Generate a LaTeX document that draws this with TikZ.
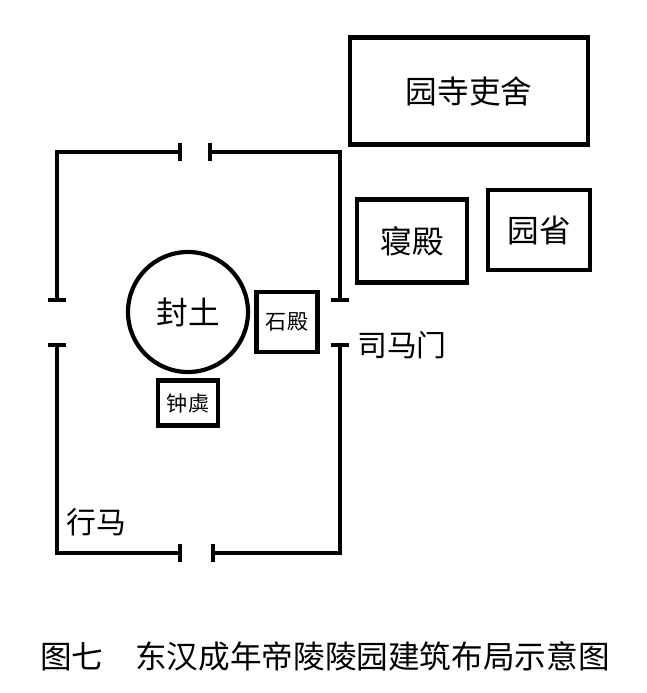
\documentclass[tikz,border=0pt]{standalone}
\usepackage{fontspec}
\newfontfamily\cjk{Noto Sans CJK SC}
\usetikzlibrary{positioning}

\begin{document}
\begin{tikzpicture}
[x=0.02cm, y=-0.02cm,
 wall/.style={line width=2.4pt},
 bau/.style={shape=rectangle,draw,line width=2.4pt,font=\cjk\fontsize{18}{18}\selectfont},
 klein/.style={shape=rectangle,draw,line width=2.4pt,font=\cjk\fontsize{12}{12}\selectfont},
 txt/.style={font=\cjk\fontsize{17}{17}\selectfont}]
\useasboundingbox (0,0) rectangle (646,693);
% buildings
\node[bau, minimum width=238*0.02cm, minimum height=107*0.02cm] (lisi) at (469,91) {园寺吏舍};
\node[bau, minimum width=110*0.02cm, minimum height=83*0.02cm] (qindian) at (412,241) {寝殿};
\node[bau, minimum width=102*0.02cm, minimum height=80*0.02cm] (yuansheng) at (539,230) {园省};
\node[shape=circle, draw, line width=2.4pt, minimum size=120*0.02cm, font=\cjk\fontsize{18}{18}\selectfont] (fengtu) at (188,312) {封土};
\node[klein, minimum width=61*0.02cm, minimum height=60*0.02cm] (shidian) at (287,322) {石殿};
\node[klein, minimum width=60*0.02cm, minimum height=45*0.02cm] (zhongju) at (188,403) {钟虡};
% wall with gates
\draw[wall] (180,143) -- (180,161) (180,152) -- (57,152) -- (57,300) (48,300) -- (66,300);
\draw[wall] (210,143) -- (210,161) (210,152) -- (340,152) -- (340,300) (331,300) -- (349,300);
\draw[wall] (48,345) -- (66,345) (57,345) -- (57,553) -- (180,553) (180,544) -- (180,562);
\draw[wall] (331,345) -- (349,345) (340,345) -- (340,553) -- (213,553) (213,544) -- (213,562);
\node[txt] (simamen) at (402,345) {司马门};
\node[txt] (xingma) at (96,522) {行马};
\node[txt, font=\cjk\fontsize{18}{18}\selectfont] (caption) at (325,656) {图七\quad 东汉成年帝陵陵园建筑布局示意图};
\end{tikzpicture}
\end{document}
